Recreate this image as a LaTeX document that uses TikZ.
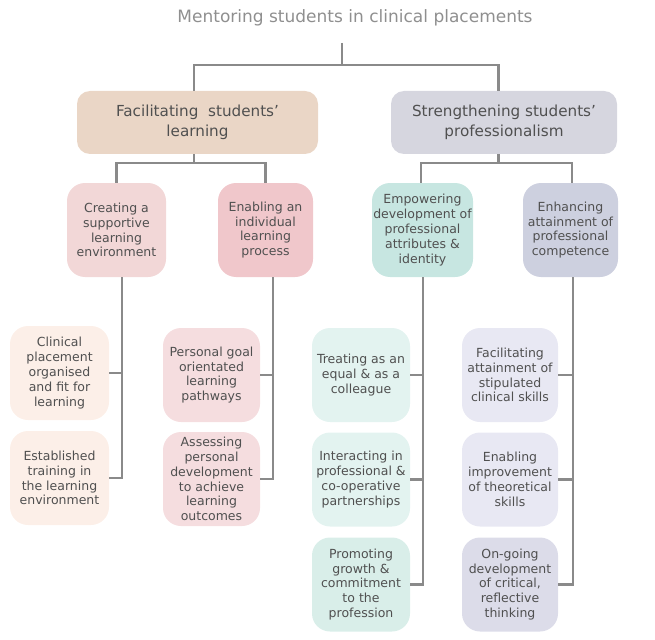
\documentclass[tikz,border=0pt]{standalone}
\usepackage{fontspec}
\setmainfont{DejaVu Sans}
\usetikzlibrary{calc}
\definecolor{txt}{HTML}{505050}
\definecolor{ttl}{HTML}{8F8F8F}
\definecolor{lin}{HTML}{8A8A8A}
\definecolor{cfac}{HTML}{EAD6C6}
\definecolor{cstr}{HTML}{D6D6DF}
\definecolor{ccre}{HTML}{F2D7D7}
\definecolor{cena}{HTML}{F0C7CB}
\definecolor{cemp}{HTML}{C7E6E1}
\definecolor{cenh}{HTML}{CDD0DF}
\definecolor{ccli}{HTML}{FCEFE8}
\definecolor{cper}{HTML}{F5DDDF}
\definecolor{ctre}{HTML}{E3F3F0}
\definecolor{cpro}{HTML}{D9EEE9}
\definecolor{cfat}{HTML}{E8E8F3}
\definecolor{cong}{HTML}{DCDCE9}
\tikzset{
  conn/.style={draw=lin, line width=2.2pt},
  topbox/.style={rounded corners=13pt, minimum width=#1, minimum height=63pt, inner sep=0pt,
    align=center, text=txt, font=\fontsize{15.2}{19.5}\selectfont},
  midbox/.style={rounded corners=18pt, minimum width=97pt, minimum height=94pt, inner sep=0pt,
    align=center, text=txt, font=\fontsize{12.5}{14.8}\selectfont},
}
\begin{document}
\begin{tikzpicture}[x=1pt,y=-1pt]
\useasboundingbox (0,0) rectangle (655,639);
\node[text=ttl, font=\fontsize{17}{20}\selectfont] (title) at (355,18) {Mentoring students in clinical placements};

\node[topbox=241pt, fill=cfac] (fac) at (197.5,122.5) {Facilitating~ students'\\learning};
\node[topbox=226pt, fill=cstr] (str) at (504,122.5) {Strengthening students'\\professionalism};

\node[midbox, fill=ccre, minimum width=99pt] (cre) at (116.5,230) {Creating a\\supportive\\learning\\environment};
\node[midbox, fill=cena, minimum width=95pt] (ena) at (265.5,230) {Enabling an\\individual\\learning\\process};
\node[midbox, fill=cemp, minimum width=101pt] (emp) at (422.5,230) {Empowering\\development of\\professional\\attributes \&\\identity};
\node[midbox, fill=cenh, minimum width=95pt] (enh) at (570.5,230) {Enhancing\\attainment of\\professional\\competence};

\node[midbox, fill=ccli, minimum width=99pt] (cli) at (59.5,373) {Clinical\\placement\\organised\\and fit for\\learning};
\node[midbox, fill=ccli, minimum width=99pt] (est) at (59.5,478) {Established\\training in\\the learning\\environment};

\node[midbox, fill=cper] (per) at (211.5,375) {Personal goal\\orientated\\learning\\pathways};
\node[midbox, fill=cper] (ass) at (211.5,479) {Assessing\\personal\\development\\to achieve\\learning\\outcomes};

\node[midbox, fill=ctre, minimum width=98pt] (tre) at (361,375) {Treating as an\\equal \& as a\\colleague};
\node[midbox, fill=ctre, minimum width=98pt] (int) at (361,479.5) {Interacting in\\professional \&\\co-operative\\partnerships};
\node[midbox, fill=cpro, minimum width=98pt] (pro) at (361,584.5) {Promoting\\growth \&\\commitment\\to the\\profession};

\node[midbox, fill=cfat, minimum width=96pt] (fat) at (510,375) {Facilitating\\attainment of\\stipulated\\clinical skills};
\node[midbox, fill=cfat, minimum width=96pt] (eim) at (510,479.5) {Enabling\\improvement\\of theoretical\\skills};
\node[midbox, fill=cong, minimum width=96pt] (ong) at (510,584.5) {On-going\\development\\of critical,\\reflective\\thinking};

% level 0 -> 1
\coordinate (t0) at (342,43);
\coordinate (j0) at (342,65);
\draw[conn] (t0) -- (j0);
\draw[conn] ($(fac.north)+(-3.5,0)$) |- (j0) -| ($(str.north)+(-5.5,0)$);

% level 1 -> 2
\draw[conn] ($(fac.south)+(-3.5,0)$) -- ++(0,9) coordinate (j1);
\draw[conn] (cre.north) |- (j1) -| (ena.north);
\draw[conn] ($(str.south)+(-5.5,0)$) -- ++(0,9) coordinate (j2);
\draw[conn] ($(emp.north)+(-1.5,0)$) |- (j2) -| ($(enh.north)+(1.5,0)$);

% level 2 -> 3
\coordinate (b1) at ($(cre.south)+(5.5,0)$);
\draw[conn] (b1) |- (est.east);
\draw[conn] (cli.east) -- (cli.east -| b1);

\coordinate (b2) at ($(ena.south)+(7.5,0)$);
\draw[conn] (b2) |- (ass.east);
\draw[conn] (per.east) -- (per.east -| b2);

\coordinate (b3) at ($(emp.south)+(0.5,0)$);
\draw[conn] (b3) |- (pro.east);
\draw[conn] (tre.east) -- (tre.east -| b3);
\draw[conn] (int.east) -- (int.east -| b3);

\coordinate (b4) at ($(enh.south)+(2.5,0)$);
\draw[conn] (b4) |- (ong.east);
\draw[conn] (fat.east) -- (fat.east -| b4);
\draw[conn] (eim.east) -- (eim.east -| b4);
\end{tikzpicture}
\end{document}
